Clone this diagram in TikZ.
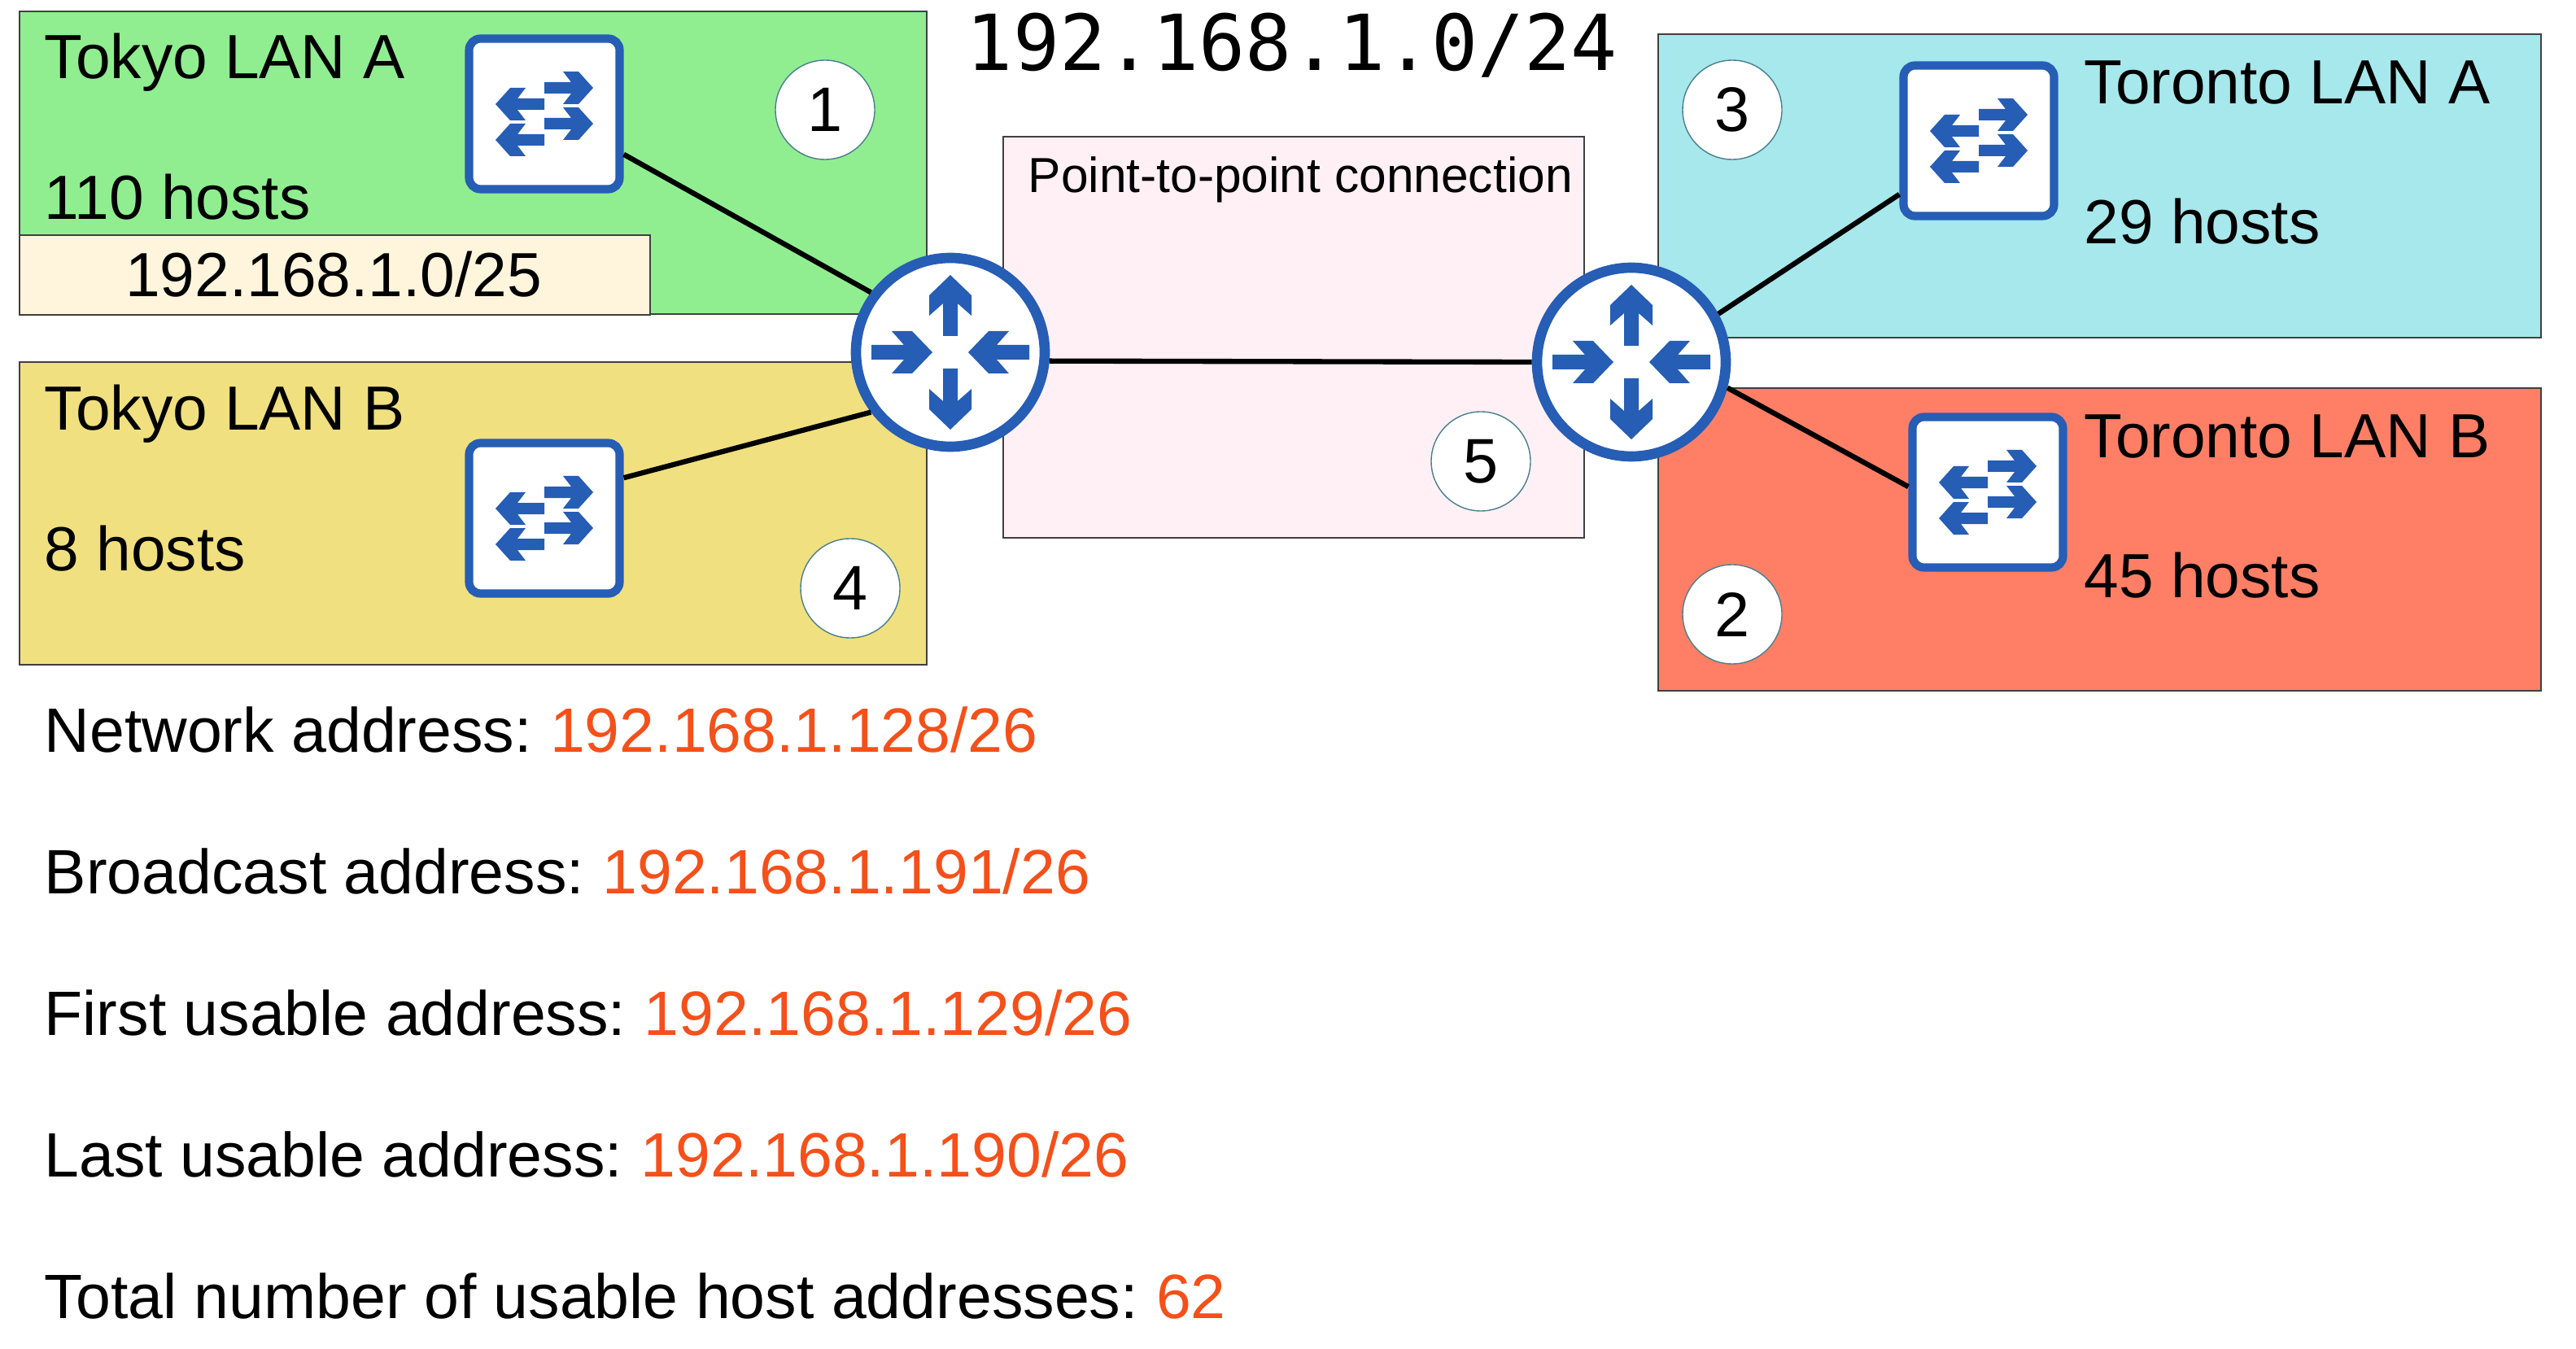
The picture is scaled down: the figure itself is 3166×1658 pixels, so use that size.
\documentclass[tikz,border=0pt]{standalone}
\usepackage{fontspec}
\setmainfont{Liberation Sans}
\newfontfamily\titlefont{DejaVu Sans Mono}
\definecolor{iconblue}{HTML}{265DB5}
\definecolor{addrorange}{HTML}{F5501A}
\definecolor{lanA}{HTML}{90EE90}
\definecolor{lanB}{HTML}{F0E07F}
\definecolor{lanC}{HTML}{A6E8EC}
\definecolor{lanD}{HTML}{FF7F66}
\definecolor{ptpbg}{HTML}{FFF0F5}
\definecolor{subnetbg}{HTML}{FFF5DC}
\definecolor{ringline}{HTML}{4A7F8F}
\tikzset{
    lan/.style={draw=black!75, line width=0.5pt},
    router/.style={circle, draw=iconblue, fill=white, line width=3.6pt, minimum size=232*0.01cm, inner sep=0pt},
    switchbox/.style={rectangle, rounded corners=4pt, draw=iconblue, fill=white, line width=2.9pt, minimum size=185*0.01cm, inner sep=0pt},
    link/.style={line width=1.8pt, black},
    tag/.style={circle, draw=ringline, fill=white, line width=0.4pt, minimum size=122*0.01cm, inner sep=0pt, font=\fontsize{22}{27}\selectfont},
    label/.style={anchor=base west, inner sep=0pt, font=\fontsize{21.8}{27}\selectfont},
    addr/.style={label, font=\fontsize{21.9}{27}\selectfont}
}
% orange value after an address caption
\newcommand{\addrval}[1]{\kern-1.8pt\textcolor{addrorange}{#1}}
% big arrow of the router icon, tip at the origin
\newcommand{\routerarrow}[1]{\fill[iconblue, #1] (0,0) -- (-25,26) -- (-50,26) -- (-35,9) -- (-75,9) -- (-75,-9) -- (-35,-9) -- (-50,-26) -- (-25,-26) -- cycle;}
% small arrow of the switch icon, tip at the origin
\newcommand{\switcharrow}[1]{\fill[iconblue, #1] (0,0) -- (-18,20) -- (-37,20) -- (-27,7) -- (-60,7) -- (-60,-7) -- (-27,-7) -- (-37,-20) -- (-18,-20) -- cycle;}
\begin{document}
\begin{tikzpicture}[x=0.01cm, y=0.01cm]
    \useasboundingbox (0,0) rectangle (3166,-1658);

    % LAN areas
    \draw[lan, fill=lanA] (24,-14) rectangle (1139,-386);
    \draw[lan, fill=lanB] (24,-445) rectangle (1139,-817);
    \draw[lan, fill=lanC] (2038,-42) rectangle (3123,-415);
    \draw[lan, fill=lanD] (2038,-477) rectangle (3123,-849);
    \draw[lan, fill=ptpbg] (1233,-168) rectangle (1947,-661);
    \draw[lan, fill=subnetbg] (24,-289) rectangle (799,-387);

    % Title
    \node[anchor=base, inner sep=0pt, font=\titlefont\fontsize{27}{30}\selectfont] (title) at (1588,-87) {192.168.1.0/24};

    % Routers
    \node[router] (rtrTokyo) at (1168,-433) {};
    \node[router] (rtrToronto) at (2005,-445) {};
    \foreach \r in {rtrTokyo,rtrToronto} {
        \foreach \a/\d in {90/95,270/95,0/-22,180/-22} {
            \routerarrow{shift={(\r.center)}, rotate=\a, shift={(\d,0)}}
        }
    }

    % Switches
    \node[switchbox] (swTokyoA) at (669,-140) {};
    \node[switchbox] (swTokyoB) at (669,-637) {};
    \node[switchbox] (swTorontoA) at (2432,-173) {};
    \node[switchbox] (swTorontoB) at (2443,-605) {};
    \foreach \s in {swTokyoA,swTokyoB,swTorontoA,swTorontoB} {
        \switcharrow{shift={(\s.center)}, shift={(60,32)}}
        \switcharrow{shift={(\s.center)}, shift={(60,-12)}}
        \switcharrow{shift={(\s.center)}, shift={(-60,12)}, rotate=180}
        \switcharrow{shift={(\s.center)}, shift={(-60,-32)}, rotate=180}
    }

    % Links
    \draw[link] (swTokyoA.-27) -- (rtrTokyo.143);
    \draw[link] (swTokyoB.27) -- (rtrTokyo.-143);
    \draw[link] (rtrTokyo.-5.6) -- (rtrToronto.west);
    \draw[link] (swTorontoA.214) -- (rtrToronto.29.5);
    \draw[link] (swTorontoB.176) -- (rtrToronto.-15.6);

    % Numbered tags
    \node[tag] (tagOne) at (1014,-135) {1};
    \node[tag] (tagTwo) at (2129,-755) {2};
    \node[tag] (tagThree) at (2129,-135) {3};
    \node[tag] (tagFour) at (1045,-723) {4};
    \node[tag] (tagFive) at (1820,-567) {5};

    % LAN labels
    \node[label] (nameTokyoA) at (54,-97) {Tokyo LAN A};
    \node[label] (hostsTokyoA) at (54,-270) {110 hosts};
    \node[label, anchor=base] (subnetTokyoA) at (410,-365) {192.168.1.0/25};
    \node[label] (nameTokyoB) at (54,-528) {Tokyo LAN B};
    \node[label] (hostsTokyoB) at (54,-702) {8 hosts};
    \node[label] (nameTorontoA) at (2561,-128) {Toronto LAN A};
    \node[label] (hostsTorontoA) at (2561,-300) {29 hosts};
    \node[label] (nameTorontoB) at (2561,-562) {Toronto LAN B};
    \node[label] (hostsTorontoB) at (2561,-734) {45 hosts};
    \node[label, font=\fontsize{17.2}{20}\selectfont] (ptpLabel) at (1263,-237) {Point-to-point connection};

    % Address summary
    \node[addr] (addrNet) at (54,-924) {Network address: \addrval{192.168.1.128/26}};
    \node[addr] (addrBcast) at (54,-1098) {Broadcast address: \addrval{192.168.1.191/26}};
    \node[addr] (addrFirst) at (54,-1272) {First usable address: \addrval{192.168.1.129/26}};
    \node[addr] (addrLast) at (54,-1446) {Last usable address: \addrval{192.168.1.190/26}};
    \node[addr] (addrTotal) at (54,-1620) {Total number of usable host addresses: \addrval{62}};
\end{tikzpicture}
\end{document}
